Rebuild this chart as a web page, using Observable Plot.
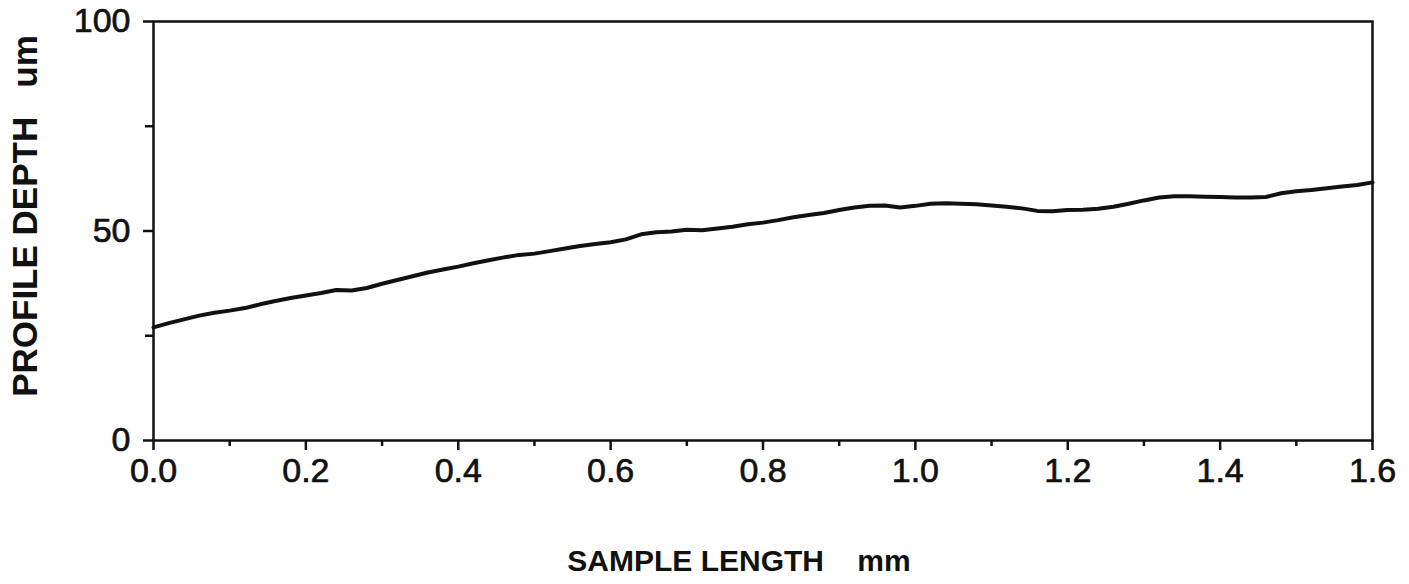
<!DOCTYPE html>
<html>
<head>
<meta charset="utf-8">
<script src="https://cdn.jsdelivr.net/npm/d3@7"></script>
<script src="https://cdn.jsdelivr.net/npm/@observablehq/plot@0.6"></script>
<style>
  html, body { margin: 0; padding: 0; background: #fff; }
  #chart { width: 1409px; height: 584px; }
</style>
</head>
<body>
<div id="chart"></div>
<script>
// Sample length (mm)
const sampleLength = [0.00,0.02,0.04,0.06,0.08,0.10,0.12,0.14,0.16,0.18,0.20,0.22,0.24,0.26,0.28,0.30,0.32,0.34,0.36,0.38,0.40,0.42,0.44,0.46,0.48,0.50,0.52,0.54,0.56,0.58,0.60,0.62,0.64,0.66,0.68,0.70,0.72,0.74,0.76,0.78,0.80,0.82,0.84,0.86,0.88,0.90,0.92,0.94,0.96,0.98,1.00,1.02,1.04,1.06,1.08,1.10,1.12,1.14,1.16,1.18,1.20,1.22,1.24,1.26,1.28,1.30,1.32,1.34,1.36,1.38,1.40,1.42,1.44,1.46,1.48,1.50,1.52,1.54,1.56,1.58,1.60];
// Profile depth (um)
const profileDepth = [27.0,28.0,28.9,29.8,30.5,31.0,31.6,32.5,33.3,34.0,34.6,35.2,35.9,35.8,36.4,37.4,38.3,39.2,40.1,40.8,41.5,42.3,43.0,43.7,44.3,44.6,45.2,45.8,46.4,46.9,47.3,48.0,49.2,49.7,49.9,50.3,50.2,50.6,51.0,51.6,52.0,52.6,53.3,53.8,54.3,55.0,55.6,56.0,56.1,55.6,56.0,56.5,56.6,56.5,56.4,56.1,55.8,55.4,54.8,54.7,55.0,55.1,55.3,55.8,56.5,57.3,58.0,58.3,58.3,58.2,58.1,58.0,58.0,58.1,59.0,59.5,59.8,60.2,60.6,61.0,61.6];

const xMajorTicks = [0, 0.2, 0.4, 0.6, 0.8, 1.0, 1.2, 1.4, 1.6];
const xMinorTicks = [0.1, 0.3, 0.5, 0.7, 0.9, 1.1, 1.3, 1.5];
const yMajorTicks = [0, 50, 100];
const yMinorTicks = [25, 75];
const xTitle = "SAMPLE LENGTH    mm";
const yTitle = "PROFILE DEPTH   um";

const data = sampleLength.map((x, i) => ({x, y: profileDepth[i]}));
const font = "'Liberation Sans', Arial, Helvetica, sans-serif";

const chart = Plot.plot({
  width: 1409,
  height: 584,
  marginLeft: 153,
  marginRight: 37,
  marginTop: 21,
  marginBottom: 144,
  style: {fontFamily: font, background: "#fff", color: "#111"},
  x: {domain: [0, 1.6]},
  y: {domain: [0, 100]},
  marks: [
    Plot.frame({stroke: "#111", strokeWidth: 2.5}),
    Plot.axisX({ticks: xMajorTicks, tickSize: 10, tickPadding: 7, tickFormat: d3.format(".1f"), fontSize: 34, label: null, strokeWidth: 2.5, stroke: "#111", fill: "#111", textStroke: "#111", textStrokeWidth: 0.7, textStrokeOpacity: 1}),
    Plot.axisX({ticks: xMinorTicks, tickSize: 6, text: null, label: null, strokeWidth: 2.5, stroke: "#111"}),
    Plot.axisY({ticks: yMajorTicks, tickSize: 10, tickPadding: 13, fontSize: 34, label: null, strokeWidth: 2.5, stroke: "#111", fill: "#111", textStroke: "#111", textStrokeWidth: 0.7, textStrokeOpacity: 1}),
    Plot.axisY({ticks: yMinorTicks, tickSize: 8, text: null, label: null, strokeWidth: 2.5, stroke: "#111"}),
    Plot.line(data, {x: "x", y: "y", stroke: "#111", strokeWidth: 4}),
    Plot.text([xTitle], {frameAnchor: "bottom", dx: -24, dy: 130, text: d => d, fontSize: 30, fontWeight: "bold", fill: "#111"}),
    Plot.text([yTitle], {frameAnchor: "left", dx: -128, dy: -15, rotate: -90, textAnchor: "middle", text: d => d, fontSize: 35, fontWeight: "bold", fill: "#111"})
  ]
});
document.getElementById("chart").appendChild(chart);
</script>
</body>
</html>
